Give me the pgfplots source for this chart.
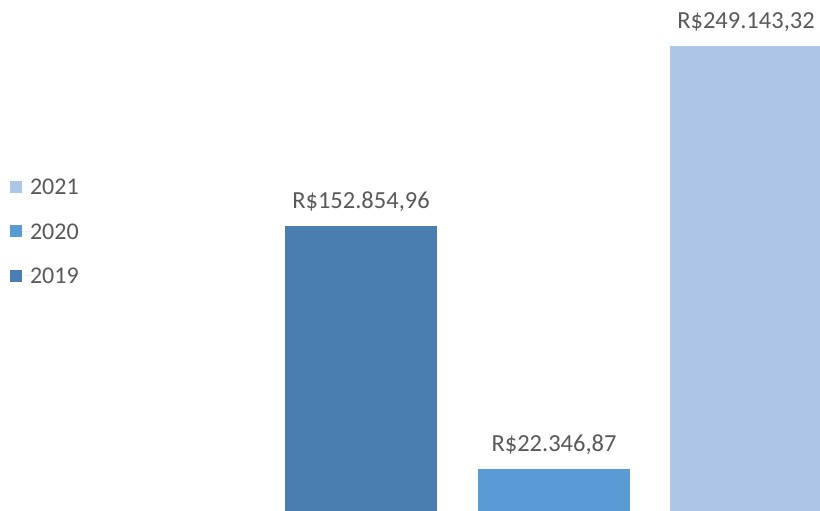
\documentclass[border=0pt]{standalone}
\usepackage{pgfplots}
\pgfplotsset{compat=1.18}
\usepackage{fontspec}
\setmainfont{Carlito}
\definecolor{txt}{HTML}{595959}
\definecolor{c2019}{HTML}{4A7EB0}
\definecolor{c2020}{HTML}{5B9BD5}
\definecolor{c2021}{HTML}{ADC6E5}
\begin{document}
\begin{tikzpicture}
\begin{axis}[
  scale only axis, width=820pt, height=511pt,
  at={(0,0)}, anchor=south west,
  xmin=0, xmax=820, ymin=0, ymax=273640,
  hide axis,
  ybar, bar width=152, bar shift=0pt,
  point meta=explicit symbolic,
  nodes near coords,
  every node near coord/.append style={font=\fontsize{24.5}{29}\selectfont, text=txt, anchor=base, yshift=17.5pt, inner sep=0pt},
  reverse legend,
  legend image code/.code={\fill[#1] (0pt,-6pt) rectangle (12pt,6pt); \path (0pt,0pt) -- (20pt,0pt);},
  legend style={draw=none, fill=none, inner sep=0pt, outer sep=0pt,
    at={(axis cs:10,178000)}, anchor=north west,
    font=\fontsize{24}{29}\selectfont, text=txt,
    nodes={inner sep=0pt, text height=16pt, text depth=0pt},
    row sep=28.5pt},
  legend cell align=left,
]
\addplot[fill=c2019, draw=none] coordinates {(361,152854.96) [R\$152.854,96]};
\addlegendentry{2019}
\addplot[fill=c2020, draw=none] coordinates {(554,22346.87) [R\$22.346,87]};
\addlegendentry{2020}
\addplot[fill=c2021, draw=none] coordinates {(746,249143.32) [R\$249.143,32]};
\addlegendentry{2021}
\end{axis}
\pgfresetboundingbox
\path (0,0) rectangle (820pt,511pt);
\end{tikzpicture}
\end{document}
